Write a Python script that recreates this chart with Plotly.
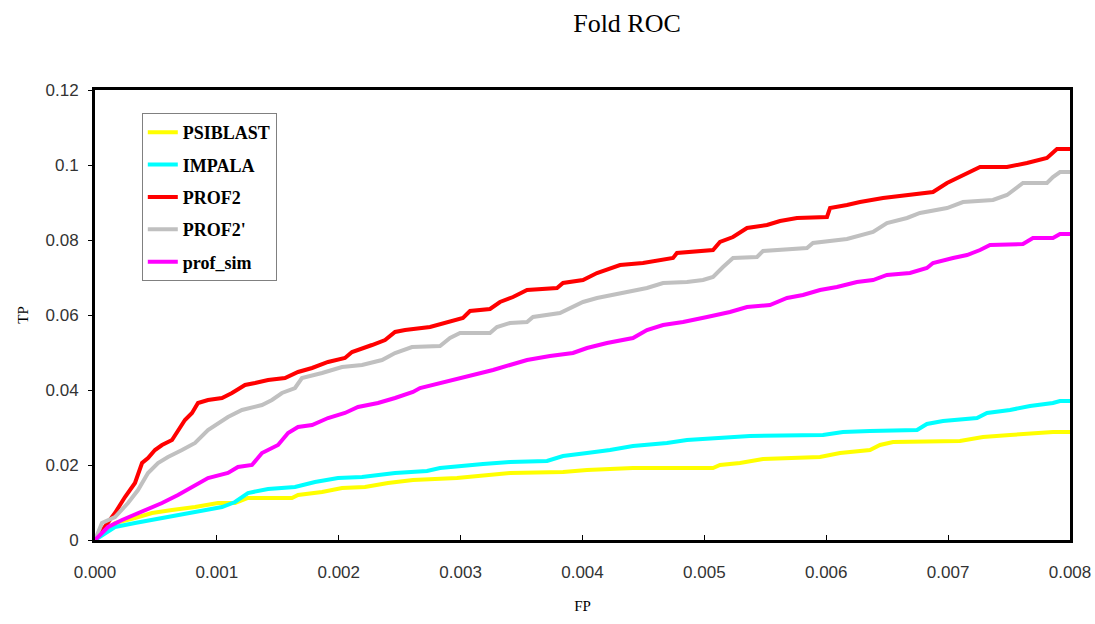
import plotly.graph_objects as go

# ---- data (FP, TP) ----
psiblast_fp = [0, 0.000164, 0.000328, 0.000468, 0.000632, 0.000821, 0.001009, 0.001149, 0.001255, 0.001616,
               0.001666, 0.001863, 0.002027, 0.002215, 0.002404, 0.002609, 0.00297, 0.003241, 0.003405, 0.00384,
               0.004037, 0.004414, 0.005071, 0.005128, 0.005292, 0.005481, 0.005949, 0.006113, 0.006359, 0.006441,
               0.006548, 0.007097, 0.007286, 0.007508, 0.007778, 0.00786, 0.008]
psiblast_tp = [0, 0.00453, 0.00587, 0.0072, 0.008, 0.0088, 0.00987, 0.00987, 0.0112, 0.0112,
               0.012, 0.0128, 0.01387, 0.01413, 0.0152, 0.016, 0.01653, 0.01733, 0.01787, 0.01813,
               0.01867, 0.0192, 0.0192, 0.02, 0.02053, 0.0216, 0.02213, 0.0232, 0.024, 0.02533,
               0.02613, 0.0264, 0.02747, 0.028, 0.02853, 0.0288, 0.0288]

impala_fp = [0, 0.000164, 0.000328, 0.00055, 0.000714, 0.000903, 0.001042, 0.001149, 0.001255, 0.00142,
             0.001641, 0.001805, 0.001994, 0.002191, 0.002462, 0.002724, 0.002831, 0.003184, 0.003405, 0.003709,
             0.00384, 0.004037, 0.004226, 0.004414, 0.004693, 0.004857, 0.005128, 0.005374, 0.005973, 0.006137,
             0.006359, 0.006745, 0.006826, 0.006958, 0.007237, 0.007319, 0.007508, 0.007672, 0.00786, 0.007918, 0.008]
impala_tp = [0, 0.00347, 0.00453, 0.00587, 0.00667, 0.008, 0.0088, 0.01013, 0.01253, 0.0136,
             0.01413, 0.01547, 0.01653, 0.0168, 0.01787, 0.0184, 0.0192, 0.02027, 0.0208, 0.02107,
             0.0224, 0.0232, 0.024, 0.02507, 0.02587, 0.02667, 0.0272, 0.02773, 0.028, 0.0288,
             0.02907, 0.02933, 0.03093, 0.03173, 0.03253, 0.03387, 0.03467, 0.03573, 0.03653, 0.03707, 0.03707]

prof2_fp = [0, 0.000082, 0.000164, 0.000246, 0.000328, 0.000386, 0.000435, 0.000492, 0.00055, 0.000632,
            0.000673, 0.000738, 0.000796, 0.000845, 0.000927, 0.001042, 0.001124, 0.001231, 0.001313, 0.00142,
            0.001559, 0.001666, 0.001781, 0.001912, 0.002051, 0.002109, 0.002273, 0.00238, 0.002462, 0.002544,
            0.002749, 0.002913, 0.003019, 0.003077, 0.003241, 0.003323, 0.00343, 0.003545, 0.003791, 0.00384,
            0.004004, 0.004119, 0.004308, 0.004496, 0.004743, 0.004775, 0.005071, 0.005128, 0.005235, 0.00535,
            0.005514, 0.005621, 0.00576, 0.006006, 0.006031, 0.00617, 0.006277, 0.006466, 0.006687, 0.006876,
            0.006991, 0.007097, 0.007179, 0.007262, 0.007483, 0.007647, 0.007811, 0.007893, 0.008]
prof2_tp = [0, 0.00347, 0.0072, 0.01147, 0.0152, 0.02053, 0.02187, 0.024, 0.02533, 0.02667,
            0.0288, 0.032, 0.03387, 0.03653, 0.03733, 0.03787, 0.0392, 0.04133, 0.04187, 0.04267,
            0.0432, 0.0448, 0.04587, 0.04747, 0.04853, 0.05013, 0.052, 0.05333, 0.05547, 0.056,
            0.0568, 0.05813, 0.0592, 0.06107, 0.0616, 0.06347, 0.0648, 0.06667, 0.0672, 0.06853,
            0.06933, 0.0712, 0.07333, 0.07387, 0.0752, 0.07653, 0.07733, 0.07947, 0.0808, 0.0832,
            0.084, 0.08507, 0.08587, 0.08613, 0.08853, 0.08933, 0.09013, 0.0912, 0.092, 0.0928,
            0.0952, 0.0968, 0.09813, 0.09947, 0.09947, 0.10053, 0.10187, 0.10427, 0.10427]

prof2p_fp = [0, 0.000057, 0.000164, 0.000271, 0.000353, 0.000435, 0.000517, 0.000599, 0.000714, 0.000821,
             0.000927, 0.001009, 0.001091, 0.001206, 0.00137, 0.001452, 0.001534, 0.001641, 0.001698, 0.001863,
             0.002027, 0.002191, 0.002355, 0.002462, 0.002601, 0.002831, 0.002913, 0.002995, 0.003241, 0.003298,
             0.003405, 0.003545, 0.003594, 0.003815, 0.003922, 0.004004, 0.004119, 0.00425, 0.00439, 0.004529,
             0.004661, 0.004857, 0.004989, 0.005071, 0.005153, 0.005235, 0.005432, 0.005481, 0.005842, 0.005891,
             0.00617, 0.006277, 0.006384, 0.006498, 0.006663, 0.006769, 0.006991, 0.007122, 0.007368, 0.007483,
             0.007614, 0.007811, 0.00786, 0.007918, 0.008]
prof2p_tp = [0, 0.00453, 0.00613, 0.00987, 0.01333, 0.01787, 0.02053, 0.02213, 0.024, 0.02587,
             0.02933, 0.0312, 0.0328, 0.03467, 0.036, 0.03733, 0.0392, 0.04053, 0.0432, 0.04453,
             0.04613, 0.04667, 0.048, 0.04987, 0.05147, 0.05173, 0.05387, 0.0552, 0.0552, 0.0568,
             0.05787, 0.05813, 0.05947, 0.06053, 0.06213, 0.06347, 0.06453, 0.06533, 0.06613, 0.0672,
             0.06853, 0.0688, 0.06933, 0.07013, 0.0728, 0.0752, 0.07547, 0.07707, 0.07787, 0.0792,
             0.08027, 0.08107, 0.08213, 0.08453, 0.08587, 0.0872, 0.08853, 0.09013, 0.09067, 0.092,
             0.0952, 0.0952, 0.0968, 0.09813, 0.09813]

profsim_fp = [0, 0.000107, 0.000222, 0.000386, 0.00055, 0.000681, 0.000821, 0.000927, 0.001091, 0.001173,
              0.001288, 0.00137, 0.001502, 0.001584, 0.001666, 0.001781, 0.001912, 0.002051, 0.002158, 0.002322,
              0.002462, 0.002609, 0.002667, 0.002831, 0.003052, 0.003266, 0.003405, 0.003545, 0.003733, 0.003922,
              0.004037, 0.004201, 0.004414, 0.004529, 0.004661, 0.004825, 0.005022, 0.00521, 0.00535, 0.005538,
              0.005678, 0.005809, 0.005949, 0.006088, 0.006252, 0.006384, 0.006498, 0.006687, 0.006826, 0.006876,
              0.00704, 0.007155, 0.007262, 0.007344, 0.007614, 0.007696, 0.00786, 0.007918, 0.008]
profsim_tp = [0, 0.00347, 0.00533, 0.00747, 0.00987, 0.012, 0.01467, 0.01653, 0.01787, 0.01947,
              0.02, 0.0232, 0.02533, 0.02853, 0.03013, 0.03067, 0.03253, 0.03387, 0.03547, 0.03653,
              0.03787, 0.03947, 0.04053, 0.04187, 0.04347, 0.04533, 0.04667, 0.048, 0.04907, 0.04987,
              0.0512, 0.05253, 0.05387, 0.056, 0.05733, 0.05813, 0.05947, 0.0608, 0.06213, 0.06267,
              0.06453, 0.06533, 0.06667, 0.06747, 0.0688, 0.06933, 0.07067, 0.0712, 0.07253, 0.07387,
              0.0752, 0.076, 0.07733, 0.07867, 0.07893, 0.08053, 0.08053, 0.0816, 0.0816]

series_names = ["PSIBLAST", "IMPALA", "PROF2", "PROF2'", "prof_sim"]
series_colors = ["#FFFF00", "#00FFFF", "#FF0000", "#C0C0C0", "#FF00FF"]
series_data = [(psiblast_fp, psiblast_tp), (impala_fp, impala_tp), (prof2_fp, prof2_tp),
               (prof2p_fp, prof2p_tp), (profsim_fp, profsim_tp)]

x_ticks = [0, 0.001, 0.002, 0.003, 0.004, 0.005, 0.006, 0.007, 0.008]
y_ticks = [0, 0.02, 0.04, 0.06, 0.08, 0.1, 0.12]

fig = go.Figure()
for name, color, (xs, ys) in zip(series_names, series_colors, series_data):
    fig.add_trace(go.Scatter(x=xs, y=ys, mode="lines", name=name, legendgroup=name,
                             line=dict(color=color, width=4)))

serif = "Liberation Serif"
sans = "Liberation Sans"

fig.update_layout(
    width=1095, height=624,
    margin=dict(l=95, r=25, t=90, b=84),
    paper_bgcolor="white", plot_bgcolor="white",
    title=dict(text="Fold ROC", x=627 / 1095, xanchor="center", y=1 - 23 / 624, yanchor="middle",
               font=dict(family=serif, size=26, color="black")),
    legend=dict(x=0.048, y=0.949, xanchor="left", yanchor="top",
                bordercolor="#808080", borderwidth=1, bgcolor="white",
                font=dict(family=serif, size=18, color="black", weight="bold"),
                tracegroupgap=6, itemwidth=30),
    showlegend=True,
    xaxis=dict(range=[0, 0.008], tickvals=x_ticks, tickformat=".3f", automargin=False,
               showline=True, linecolor="black", linewidth=3, mirror=True,
               ticks="inside", ticklen=5, tickwidth=1, tickcolor="black",
               showgrid=False, zeroline=False, ticklabelstandoff=15,
               tickfont=dict(family=sans, size=17, color="#333333"),
               title=dict(text="FP", font=dict(family=serif, size=15, color="black"), standoff=20)),
    yaxis=dict(range=[0, 0.12], tickvals=y_ticks, automargin=False,
               showline=True, linecolor="black", linewidth=3, mirror=True,
               ticks="outside", ticklen=4, tickwidth=1, tickcolor="black",
               showgrid=False, zeroline=False, ticklabelstandoff=6,
               tickfont=dict(family=sans, size=17, color="#333333"),
               title=dict(text="TP", font=dict(family=serif, size=15, color="black"), standoff=14)),
)

fig.write_html("out.html")
